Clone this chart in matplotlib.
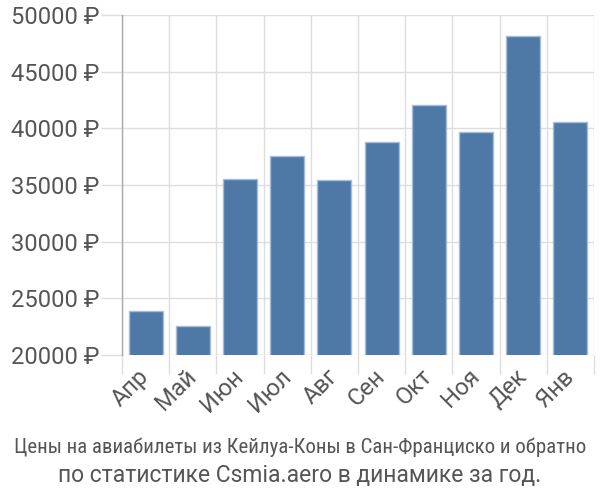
import matplotlib
matplotlib.use("Agg")
import matplotlib.pyplot as plt
from matplotlib import font_manager

months = ["Апр", "Май", "Июн", "Июл", "Авг", "Сен", "Окт", "Ноя", "Дек", "Янв"]
prices = [23900, 22530, 35550, 37600, 35460, 38800, 42100, 39650, 48170, 40600]
yticks = [20000, 25000, 30000, 35000, 40000, 45000, 50000]
title1 = "Цены на авиабилеты из Кейлуа-Коны в Сан-Франциско и обратно"
title2 = "по статистике Csmia.aero в динамике за год."

names = {f.name for f in font_manager.fontManager.ttflist}
narrow = None
for cand in ["Liberation Sans Narrow", "Roboto Condensed", "Open Sans Condensed", "DejaVu Sans Condensed"]:
    if cand in names:
        narrow = cand
        break
fam = ["Roboto", "DejaVu Sans"]

fig = plt.figure(figsize=(6, 5), dpi=100)
ax = fig.add_axes([122/600, 1-355/500, (594-122)/600, (355-15)/500])

x = list(range(len(months)))
ax.bar(x, prices, width=0.72, color="#4e79a7", edgecolor="#a8bdd5", linewidth=1, zorder=3)

ax.set_xlim(-0.5, len(months) - 0.5)
ax.set_ylim(20000, 50000)
ax.set_yticks(yticks)
ax.set_yticklabels([f"{v} ₽" for v in yticks], family=fam, fontsize=17, color="#555555")

ax.set_xticks([i + 0.5 for i in range(-1, len(months))], minor=False)
ax.set_xticklabels([])
ax.set_xticks(x, minor=True)
ax.set_xticklabels(months, minor=True, rotation=45, ha="right", va="center",
                   rotation_mode="anchor", family=fam, fontsize=17, color="#555555")
ax.tick_params(axis="x", which="minor", length=0, pad=13)
ax.tick_params(axis="x", which="major", length=14, color="#dddddd", width=1)
ax.tick_params(axis="y", length=15, color="#dddddd", width=1, pad=1)

ax.grid(True, which="major", color="#dddddd", linewidth=1, zorder=0)
ax.set_axisbelow(True)
for s in ["top", "right", "bottom"]:
    ax.spines[s].set_visible(False)
ax.spines["left"].set_color("#aaaaaa")
ax.spines["left"].set_linewidth(1)

if narrow:
    fig.text(0.5, 1-447/500, title1, ha="center", va="center",
             family=[narrow, "DejaVu Sans"], fontsize=15, color="#555555")
else:
    fig.text(0.5, 1-447/500, title1, ha="center", va="center",
             family=fam, fontsize=15.3, color="#555555")
fig.text(0.5, 1-475/500, title2, ha="center", va="center",
         family=fam, fontsize=16.5, color="#555555")

fig.savefig("out.png", dpi=100)
